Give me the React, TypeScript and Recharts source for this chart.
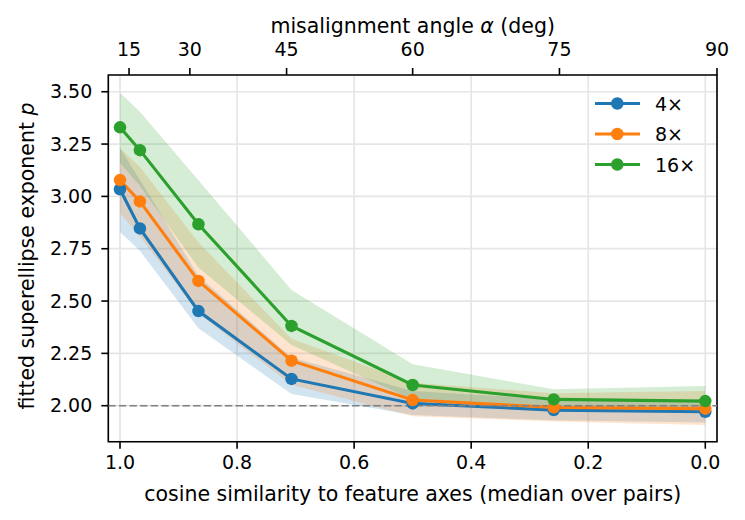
import React from 'react';
import {
  ComposedChart,
  Line,
  Area,
  XAxis,
  YAxis,
  CartesianGrid,
  ReferenceLine,
  ReferenceArea,
  Legend,
  Label,
} from 'recharts';

// ---- data ----
const cosSim = [1.0, 0.966, 0.866, 0.707, 0.5, 0.259, 0.0];
const angleTicks = [15, 30, 45, 60, 75, 90];
const cosTicks = [1.0, 0.8, 0.6, 0.4, 0.2, 0.0];
const pTicks = [2.0, 2.25, 2.5, 2.75, 3.0, 3.25, 3.5];

const p4 = [3.034, 2.847, 2.452, 2.128, 2.011, 1.979, 1.971];
const p4Lo = [2.83, 2.74, 2.37, 2.056, 1.955, 1.93, 1.92];
const p4Hi = [3.23, 3.08, 2.62, 2.23, 2.07, 2.03, 2.02];

const p8 = [3.078, 2.976, 2.596, 2.215, 2.027, 1.992, 1.986];
const p8Lo = [2.92, 2.81, 2.44, 2.1, 1.95, 1.925, 1.908];
const p8Hi = [3.23, 3.14, 2.78, 2.32, 2.11, 2.06, 2.07];

const p16 = [3.33, 3.221, 2.867, 2.381, 2.099, 2.03, 2.022];
const p16Lo = [3.16, 3.05, 2.66, 2.29, 2.03, 1.99, 1.97];
const p16Hi = [3.495, 3.404, 3.077, 2.553, 2.198, 2.078, 2.094];

const seriesNames = ['4×', '8×', '16×'];
const colors = ['#1f77b4', '#ff7f0e', '#2ca02c'];

const rows = cosSim.map((x, i) => ({
  x,
  a: p4[i],
  aR: [p4Lo[i], p4Hi[i]],
  b: p8[i],
  bR: [p8Lo[i], p8Hi[i]],
  c: p16[i],
  cR: [p16Lo[i], p16Hi[i]],
}));

const X_MIN = -0.02;
const X_MAX = 1.02;
const Y_MIN = 1.828;
const Y_MAX = 3.58;

const topTicks = angleTicks.map((a) => Math.cos((a * Math.PI) / 180));
const angleLabel = (v: number) =>
  String(Math.round((Math.acos(Math.max(-1, Math.min(1, v))) * 180) / Math.PI));

const FONT = '"DejaVu Sans", sans-serif';
const TICK_FS = 19;
const LABEL_FS = 20.5;

const tickStyle = { fill: '#000', fontSize: TICK_FS, fontFamily: FONT };
const tickLineStyle = { stroke: '#000', strokeWidth: 1.6 };

function LegendContent() {
  const rowsY = [103.5, 134, 164.5];
  return (
    <svg width={140} height={100} style={{ overflow: 'visible', display: 'block' }}>
      {seriesNames.map((n, i) => {
        const y = rowsY[i] - 85;
        return (
          <g key={n}>
            <line x1={5} x2={50} y1={y} y2={y} stroke={colors[i]} strokeWidth={3.1} />
            <circle cx={27.3} cy={y} r={6.25} fill={colors[i]} />
            <text x={65} y={y + 7} fontSize={TICK_FS} fontFamily={FONT} fill="#000">
              {n}
            </text>
          </g>
        );
      })}
    </svg>
  );
}

export default function App() {
  return (
    <div style={{ position: 'absolute', left: 0, top: 0, width: 745, height: 520, background: '#fff' }}>
      <ComposedChart
        width={745}
        height={520}
        data={rows}
        margin={{ top: 35, right: 28, bottom: 38.3, left: 8.3 }}
      >
        <CartesianGrid
          xAxisId="bottom"
          yAxisId="left"
          stroke="#e6e6e6"
          strokeWidth={1.7}
        />
        <XAxis
          xAxisId="bottom"
          dataKey="x"
          type="number"
          orientation="bottom"
          domain={[X_MIN, X_MAX]}
          reversed
          allowDataOverflow
          ticks={cosTicks}
          interval={0}
          tickFormatter={(v: number) => v.toFixed(1)}
          height={40}
          tickSize={7}
          tickMargin={7}
          axisLine={false}
          tickLine={tickLineStyle}
          tick={tickStyle}
        >
          <Label
            content={() => (
              <text x={412.7} y={501} textAnchor="middle" fontSize={LABEL_FS} fontFamily={FONT} fill="#000">
                cosine similarity to feature axes (median over pairs)
              </text>
            )}
          />
        </XAxis>
        <XAxis
          xAxisId="top"
          dataKey="x"
          type="number"
          orientation="top"
          domain={[0, 1]}
          reversed
          allowDataOverflow
          ticks={topTicks}
          interval={0}
          tickFormatter={angleLabel}
          height={40}
          tickSize={7}
          tickMargin={12}
          axisLine={false}
          tickLine={tickLineStyle}
          tick={tickStyle}
        >
          <Label
            content={() => (
              <text x={412.7} y={33.3} textAnchor="middle" fontSize={LABEL_FS} fontFamily={FONT} fill="#000">
                misalignment angle <tspan fontStyle="italic">α</tspan> (deg)
              </text>
            )}
          />
        </XAxis>
        <YAxis
          yAxisId="left"
          type="number"
          domain={[Y_MIN, Y_MAX]}
          allowDataOverflow
          ticks={pTicks}
          interval={0}
          tickFormatter={(v: number) => v.toFixed(2)}
          width={100}
          tickSize={7}
          tickMargin={9}
          axisLine={false}
          tickLine={tickLineStyle}
          tick={tickStyle}
        >
          <Label
            content={() => (
              <text
                x={34}
                y={256}
                transform="rotate(-90, 34, 256)"
                textAnchor="middle"
                fontSize={LABEL_FS}
                fontFamily={FONT}
                fill="#000"
              >
                fitted superellipse exponent <tspan fontStyle="italic">p</tspan>
              </text>
            )}
          />
        </YAxis>

        <Area xAxisId="bottom" yAxisId="left" type="linear" dataKey="aR" stroke="none" fill={colors[0]} fillOpacity={0.2} isAnimationActive={false} legendType="none" />
        <Area xAxisId="bottom" yAxisId="left" type="linear" dataKey="bR" stroke="none" fill={colors[1]} fillOpacity={0.2} isAnimationActive={false} legendType="none" />
        <Area xAxisId="bottom" yAxisId="left" type="linear" dataKey="cR" stroke="none" fill={colors[2]} fillOpacity={0.2} isAnimationActive={false} legendType="none" />

        <Line xAxisId="top" yAxisId="left" type="linear" dataKey="a" stroke="none" dot={false} activeDot={false} isAnimationActive={false} legendType="none" />

        <Line xAxisId="bottom" yAxisId="left" type="linear" dataKey="a" name={seriesNames[0]} stroke={colors[0]} strokeWidth={3.1} dot={{ r: 6.25, fill: colors[0], stroke: 'none' }} activeDot={false} isAnimationActive={false} />
        <Line xAxisId="bottom" yAxisId="left" type="linear" dataKey="b" name={seriesNames[1]} stroke={colors[1]} strokeWidth={3.1} dot={{ r: 6.25, fill: colors[1], stroke: 'none' }} activeDot={false} isAnimationActive={false} />
        <Line xAxisId="bottom" yAxisId="left" type="linear" dataKey="c" name={seriesNames[2]} stroke={colors[2]} strokeWidth={3.1} dot={{ r: 6.25, fill: colors[2], stroke: 'none' }} activeDot={false} isAnimationActive={false} />

        <ReferenceLine xAxisId="bottom" yAxisId="left" y={2} stroke="#808080" strokeWidth={1.6} strokeDasharray="7.4 3.2" />

        <ReferenceArea
          xAxisId="bottom"
          yAxisId="left"
          x1={X_MAX}
          x2={X_MIN}
          y1={Y_MIN}
          y2={Y_MAX}
          fill="none"
          fillOpacity={0}
          stroke="#000"
          strokeWidth={1.6}
          ifOverflow="visible"
        />

        <Legend
          layout="vertical"
          align="center"
          verticalAlign="middle"
          content={() => <LegendContent />}
          wrapperStyle={{ position: 'absolute', left: 590, top: 85, width: 140, height: 100, margin: 0 }}
        />
      </ComposedChart>
    </div>
  );
}
